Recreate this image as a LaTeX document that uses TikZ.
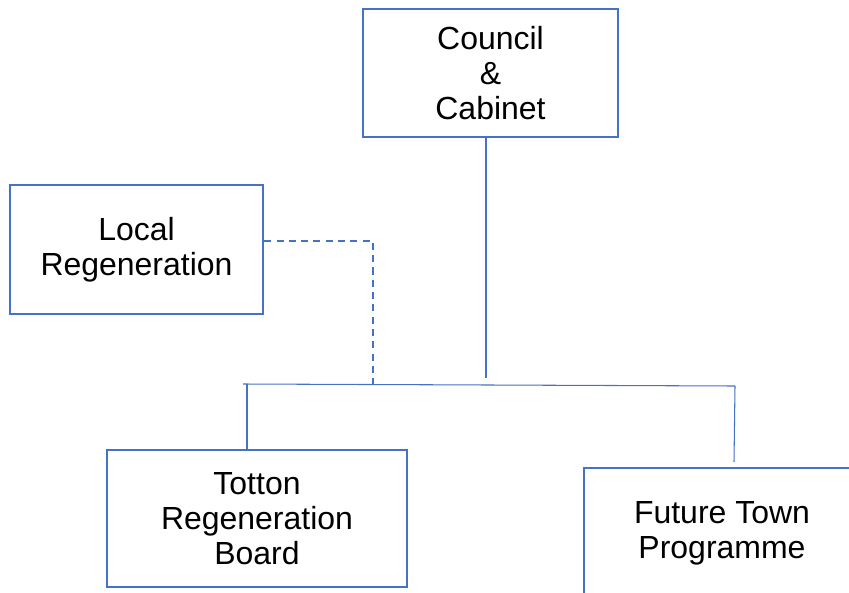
\documentclass[tikz,border=0pt]{standalone}
\usepackage{fontspec}
\setmainfont{Liberation Sans}
\usepackage{xcolor}
\usetikzlibrary{positioning,calc}
\definecolor{boxblue}{HTML}{4472C4}

\begin{document}
\begin{tikzpicture}[
          x=0.02cm, y=-0.02cm,
          unit/.style={draw=boxblue, line width=1.4pt, fill=white, inner sep=0pt,
                       align=center, font=\fontsize{18.2}{19.9}\selectfont},
          link/.style={draw=boxblue, line width=0.6pt}
      ]
        \useasboundingbox (0,0) rectangle (849,592);
        \clip (0,0) rectangle (849,592);
        \node[unit, minimum width=5.1cm, minimum height=2.56cm] (council) at (490.5,73) {Council\\\&\\Cabinet};
        \node[unit, minimum width=5.06cm, minimum height=2.58cm] (local) at (136.5,249.5) {Local\\Regeneration};
        \node[unit, minimum width=6cm, minimum height=2.74cm] (totton) at (257,518.5) {Totton\\Regeneration\\Board};
        \node[unit, minimum width=5.52cm, minimum height=2.6cm] (future) at (722,533) {Future Town\\Programme};
        \coordinate (barL) at (243,384);
        \coordinate (barR) at (735,386);
        \coordinate (councilEnd) at (486,378);
        \coordinate (tottonTop) at (247,384);
        \coordinate (futureTop) at (734,462);
        \coordinate (localBend) at (373,241);
        \coordinate (localEnd) at (373,384);
        \draw[link] (barL) -- (barR);
        \draw[link] (council.south -| councilEnd) -- (councilEnd);
        \draw[link] (tottonTop) -- (totton.north -| tottonTop);
        \draw[link] (barR) -- (futureTop);
        \draw[link, dashed, dash pattern=on 4pt off 3pt] (local.east |- localBend) -- (localBend) -- (localEnd);
      \end{tikzpicture}
\end{document}
